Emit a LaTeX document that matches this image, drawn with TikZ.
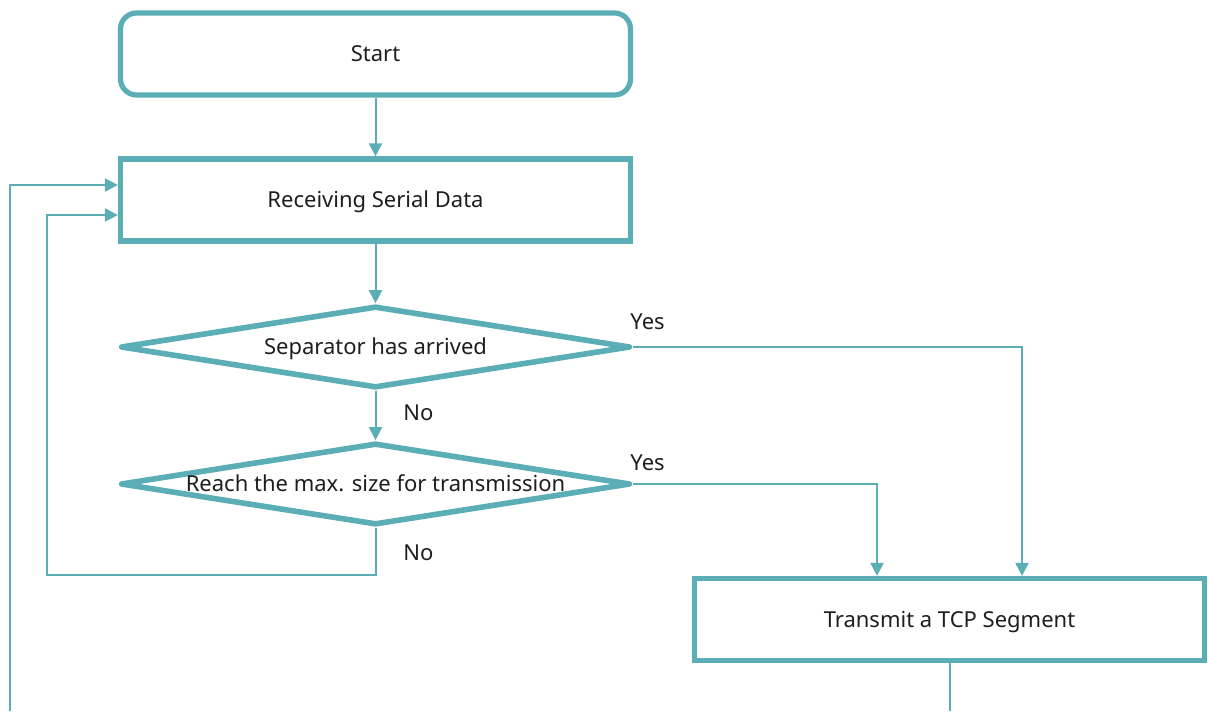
\documentclass[tikz,border=0pt]{standalone}
\usepackage{fontspec}
\setmainfont{Noto Sans}
\usetikzlibrary{arrows.meta,shapes.geometric}
\definecolor{flowteal}{RGB}{92,174,182}
\definecolor{flowtext}{RGB}{30,30,30}

\begin{document}
\begin{tikzpicture}[x=0.5pt,y=-0.5pt,
        box/.style={rectangle,draw=flowteal,line width=2.6pt,minimum width=255pt,minimum height=41pt,inner sep=0pt,text height=8pt,text depth=0.5pt,text=flowtext,font=\fontsize{11}{13}\selectfont},
        startbox/.style={box,rounded corners=8pt},
        decision/.style={diamond,draw=flowteal,line width=2.8pt,line join=round,minimum width=255pt,minimum height=41pt,inner sep=0pt,text height=8pt,text depth=0.5pt,text=flowtext,font=\fontsize{11}{13}\selectfont},
        flow/.style={draw=flowteal,line width=1pt,-{Triangle[length=6.5pt,width=6.5pt]}},
        plain/.style={draw=flowteal,line width=1pt},
        answer/.style={anchor=west,inner sep=0pt,text=flowtext,font=\fontsize{11}{13}\selectfont}]
                \useasboundingbox (0,0) rectangle (1208,711);

                \node[startbox] (start) at (375.5, 54) {Start};
                \node[box] (recv) at (375.5, 200) {Receiving Serial Data};
                \node[decision] (sep) at (375.5, 347) {\makebox[0pt]{Separator has arrived}};
                \node[decision] (reach) at (375.5, 484) {\makebox[0pt]{Reach the max. size for transmission}};
                \node[box] (tx) at (949.5, 619.5) {Transmit a TCP Segment};

                \node[answer] (yes1) at (630, 322) {Yes};
                \node[answer] (yes2) at (630, 463) {Yes};
                \node[answer] (no1) at (403, 413) {No};
                \node[answer] (no2) at (403, 553) {No};

                \coordinate (loopin) at (10, 711);
                \coordinate (txout) at (949.5, 711);

                \draw[flow] (start) -- (recv);
                \draw[flow] (recv) -- (sep);
                \draw[flow] (sep) -- (reach);
                \draw[flow] (sep.east) -| ([xshift=36.25pt]tx.north);
                \draw[flow] (reach.east) -| ([xshift=-36.25pt]tx.north);
                \draw[flow] (reach.south) |- (47, 575) |- ([yshift=-7.5pt]recv.west);
                \draw[flow] (loopin) |- ([yshift=7.5pt]recv.west);
                \draw[plain] (tx.south) -- (txout);
            \end{tikzpicture}
\end{document}
